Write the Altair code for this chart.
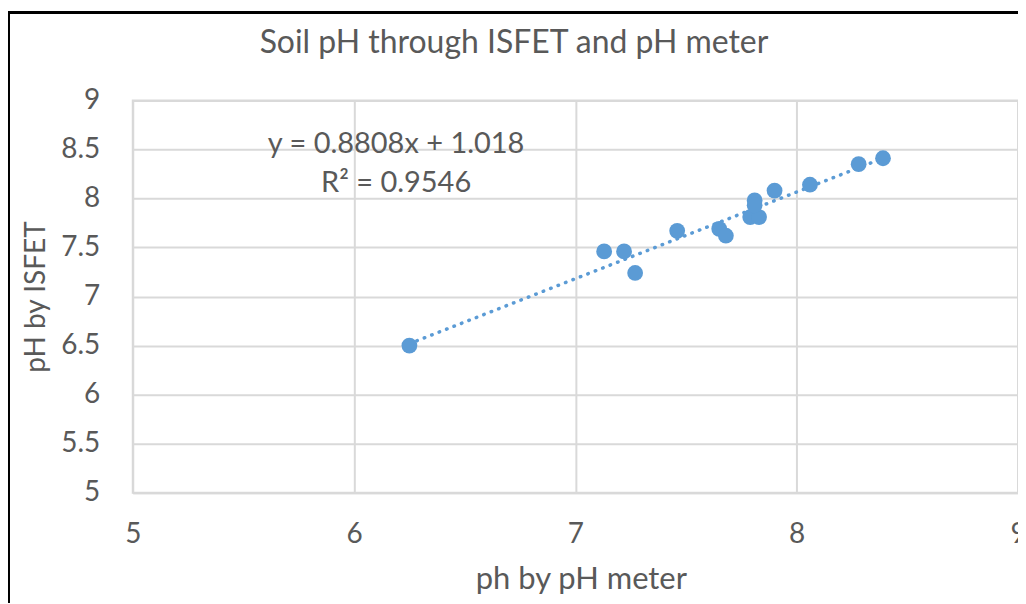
import altair as alt
import pandas as pd

# Data
ph_meter = [6.25, 7.13, 7.22, 7.27, 7.46, 7.65, 7.68, 7.79, 7.83, 7.81, 7.81, 7.90, 8.06, 8.28, 8.39]
ph_isfet = [6.50, 7.46, 7.46, 7.24, 7.67, 7.69, 7.62, 7.81, 7.81, 7.98, 7.93, 8.08, 8.14, 8.35, 8.41]

x_ticks = [5, 6, 7, 8, 9]
y_ticks = [5, 5.5, 6, 6.5, 7, 7.5, 8, 8.5, 9]

eq_lines = ["y = 0.8808x + 1.018", "R² = 0.9546"]
eq_x = [6.19, 6.19]
eq_y = [8.56, 8.155]

chart_title = ["Soil pH through ISFET and pH meter"]

df = pd.DataFrame({"x": ph_meter, "y": ph_isfet})
eq_df = pd.DataFrame({"label": eq_lines, "x": eq_x, "y": eq_y})
title_df = pd.DataFrame({"label": chart_title})

FONT = "Lato"
TXT = "#595959"
BLUE = "#5B9BD5"
GRID = "#D9D9D9"

xscale = alt.Scale(domain=[5, 9], nice=False)
yscale = alt.Scale(domain=[5, 9], nice=False)

xaxis = alt.Axis(
    title="ph by pH meter", values=x_ticks, grid=True, ticks=False,
    labelPadding=28, labelExpr="datum.value + ''", labelFlush=False, labelBound=False,
    titleX=449, titleY=87, titleBaseline="middle", titleFontSize=31,
    titleAlign="center", domain=True, domainColor=GRID, domainWidth=2,
)
yaxis = alt.Axis(
    title="pH by ISFET", values=y_ticks, grid=True, ticks=False, domain=False,
    labelPadding=33, labelExpr="datum.value + ''",
    titleX=-96, titleY=196.5, titleBaseline="middle", titleAlign="center", titleAngle=-90,
)

base = alt.Chart(df)

points = base.mark_circle(size=250, color=BLUE, opacity=1).encode(
    x=alt.X("x:Q", scale=xscale, axis=xaxis),
    y=alt.Y("y:Q", scale=yscale, axis=yaxis),
)

trend = base.transform_regression("x", "y").mark_line(
    color=BLUE, strokeWidth=3.5, strokeDash=[0.5, 7.5], strokeCap="round"
).encode(
    x=alt.X("x:Q", scale=xscale),
    y=alt.Y("y:Q", scale=yscale),
)

eq = alt.Chart(eq_df).mark_text(
    font=FONT, fontSize=29, color=TXT, align="center", baseline="middle"
).encode(
    x=alt.X("x:Q", scale=xscale),
    y=alt.Y("y:Q", scale=yscale),
    text="label:N",
)

title = alt.Chart(title_df).mark_text(
    font=FONT, fontSize=32, color=TXT, align="center", baseline="middle"
).encode(
    x=alt.value(382), y=alt.value(-58), text="label:N"
)

# outer chart frame (left and top edges visible in the reference)
frame_left = alt.Chart(df).mark_rule(color="black", strokeWidth=2.5).encode(
    x=alt.value(-125), y=alt.value(-88), y2=alt.value(510)
)
frame_top = alt.Chart(df).mark_rule(color="black", strokeWidth=2.5).encode(
    x=alt.value(-126), x2=alt.value(900), y=alt.value(-88)
)

chart = alt.layer(trend, points, eq, title, frame_left, frame_top).properties(
    width=887,
    height=393,
    autosize=alt.AutoSizeParams(type="none"),
    padding={"left": 125, "top": 92, "right": 0, "bottom": 110},
).configure_axis(
    labelFont=FONT, labelFontSize=28, labelColor=TXT,
    titleFont=FONT, titleFontSize=28, titleColor=TXT, titleFontWeight="normal",
    gridColor=GRID, gridWidth=2,
).configure_view(
    stroke=GRID, strokeWidth=2
)

chart.save("out.html", embed_options={"renderer": "svg", "actions": False})
